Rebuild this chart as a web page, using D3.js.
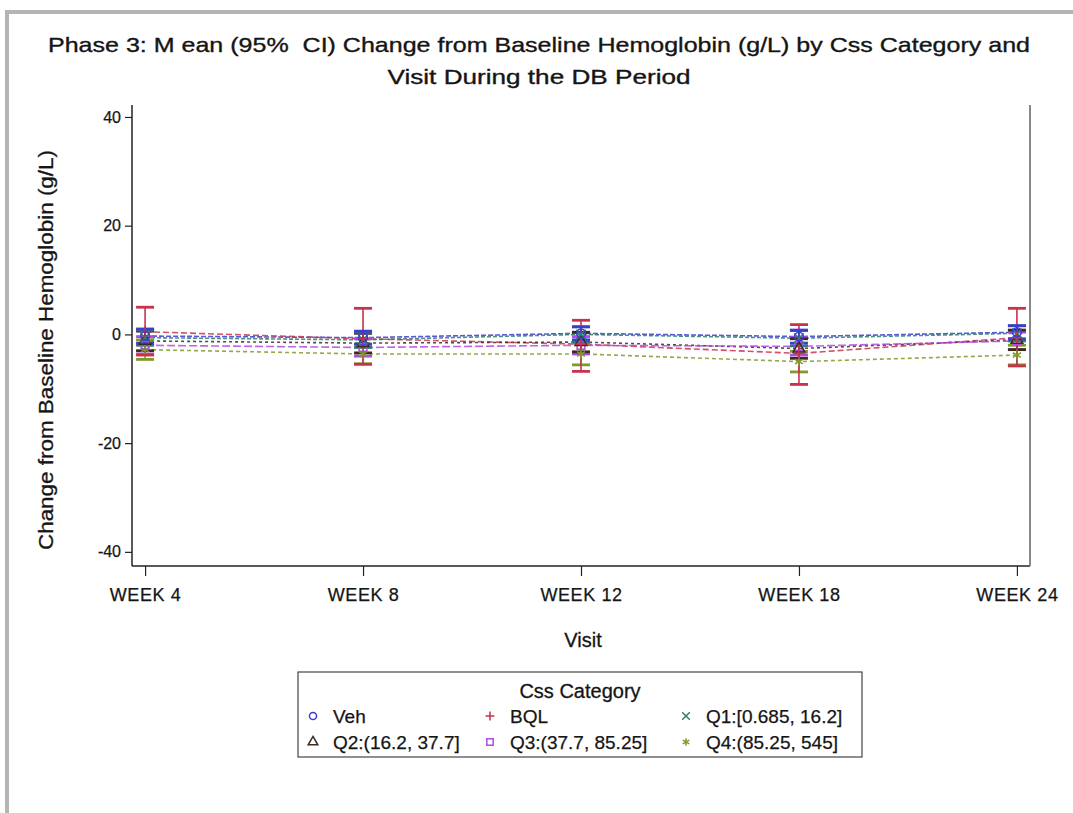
<!DOCTYPE html>
<html>
<head>
<meta charset="utf-8">
<script src="https://cdn.jsdelivr.net/npm/d3@7"></script>
<style>
  html, body { margin: 0; padding: 0; background: #fff; }
  svg { display: block; font-family: "Liberation Sans", Arial, sans-serif; }
  text { white-space: pre; }
</style>
</head>
<body>
<svg id="chart" width="1073" height="813"></svg>
<script>
// Visits on the x axis
const visits = ["WEEK 4", "WEEK 8", "WEEK 12", "WEEK 18", "WEEK 24"];
const yTicks = [-40, -20, 0, 20, 40];

// Mean change from baseline and 95% CI bounds per Css category
const vehMean = [-0.3, -0.6, 0.2, -0.4, 0.4];
const vehLow  = [-1.6, -1.8, -1.0, -1.6, -0.8];
const vehHigh = [1.0, 0.6, 1.4, 0.8, 1.6];

const bqlMean = [0.5, -0.8, -1.8, -3.5, -0.6];
const bqlLow  = [-3.8, -5.5, -6.8, -9.2, -5.8];
const bqlHigh = [5.0, 4.8, 2.6, 1.8, 4.8];

const q1Mean = [-0.6, -1.0, 0.0, -0.7, 0.2];
const q1Low  = [-2.0, -2.4, -1.4, -2.1, -1.2];
const q1High = [0.8, 0.4, 1.4, 0.7, 1.6];

const q2Mean = [-1.2, -1.6, -1.4, -2.6, -1.0];
const q2Low  = [-3.0, -3.4, -3.2, -4.4, -2.8];
const q2High = [0.6, 0.2, 0.4, -0.8, 0.8];

const q3Mean = [-2.0, -2.4, -2.0, -2.2, -1.2];
const q3Low  = [-3.6, -4.0, -3.6, -3.8, -2.8];
const q3High = [-0.4, -0.8, -0.4, -0.6, 0.4];

const q4Mean = [-2.8, -3.6, -3.6, -5.0, -3.8];
const q4Low  = [-4.6, -5.4, -5.6, -6.9, -5.6];
const q4High = [-1.0, -1.8, -1.6, -3.1, -2.0];

const categories = ["Veh", "BQL", "Q1:[0.685, 16.2]", "Q2:(16.2, 37.7]", "Q3:(37.7, 85.25]", "Q4:(85.25, 545]"];

const series = [
  { name: categories[0], mean: vehMean, low: vehLow, high: vehHigh, color: "#3c3cd2", dash: "5,2", symbol: "circle" },
  { name: categories[1], mean: bqlMean, low: bqlLow, high: bqlHigh, color: "#c8324e", dash: "6,3", symbol: "plus" },
  { name: categories[2], mean: q1Mean,  low: q1Low,  high: q1High,  color: "#2e7d6e", dash: "4,2", symbol: "x" },
  { name: categories[3], mean: q2Mean,  low: q2Low,  high: q2High,  color: "#3a2c1c", dash: "3,3", symbol: "triangle" },
  { name: categories[4], mean: q3Mean,  low: q3Low,  high: q3High,  color: "#b04ae6", dash: "8,3", symbol: "square" },
  { name: categories[5], mean: q4Mean,  low: q4Low,  high: q4High,  color: "#7f9a2a", dash: "4,3", symbol: "star" }
];

const svg = d3.select("#chart");
const ink = "#151515";

// Outer frame edges
svg.append("rect").attr("x", 5).attr("y", 10).attr("width", 1068).attr("height", 4).attr("fill", "#b4b4b4");
svg.append("rect").attr("x", 5).attr("y", 10).attr("width", 4).attr("height", 803).attr("fill", "#b4b4b4");

// Plot area
const plotLeft = 132, plotRight = 1030, plotTop = 105, plotBottom = 566;

const x = d3.scalePoint().domain(visits).range([plotLeft, plotRight]).padding(0.06);
const y = d3.scaleLinear().domain([-42.6, 42.2]).range([plotBottom, plotTop]);

// Slightly heavier text, as rendered by the original graph engine
function heavy(sel, w) {
  return sel.attr("fill", ink).attr("stroke", ink).attr("stroke-width", w).attr("paint-order", "stroke");
}

// Title
heavy(svg.append("text").attr("x", 539).attr("y", 52).attr("text-anchor", "middle")
  .attr("font-size", 21).attr("textLength", 982).attr("lengthAdjust", "spacingAndGlyphs"), 0.35)
  .text("Phase 3: M ean (95%  CI) Change from Baseline Hemoglobin (g/L) by Css Category and");
heavy(svg.append("text").attr("x", 539).attr("y", 84).attr("text-anchor", "middle")
  .attr("font-size", 21).attr("textLength", 303).attr("lengthAdjust", "spacingAndGlyphs"), 0.35)
  .text("Visit During the DB Period");

// Axes
const yAxis = d3.axisLeft(y).tickValues(yTicks).tickSize(7).tickPadding(4).tickFormat(d => String(d));
const gy = svg.append("g").attr("transform", `translate(${plotLeft},0)`).call(yAxis);
gy.select(".domain").attr("stroke", "#222").attr("stroke-width", 1.5).attr("d", `M0,${plotTop}V${plotBottom}`);
gy.selectAll(".tick line").attr("stroke", "#222").attr("stroke-width", 1.2);
heavy(gy.selectAll(".tick text").attr("font-size", 16)
  .attr("font-family", "Liberation Sans, Arial, sans-serif"), 0.25);

const xAxis = d3.axisBottom(x).tickSize(10).tickPadding(12);
const gx = svg.append("g").attr("transform", `translate(0,${plotBottom})`).call(xAxis);
gx.select(".domain").attr("stroke", "#222").attr("stroke-width", 1.5).attr("d", `M${plotLeft},0H${plotRight}`);
gx.selectAll(".tick line").attr("stroke", "#222").attr("stroke-width", 1.2);
heavy(gx.selectAll(".tick text").attr("font-size", 18).attr("letter-spacing", 0.6)
  .attr("font-family", "Liberation Sans, Arial, sans-serif"), 0.25);

// Right frame line
svg.append("line").attr("x1", plotRight).attr("x2", plotRight).attr("y1", plotTop).attr("y2", plotBottom)
  .attr("stroke", "#888").attr("stroke-width", 2);

// Axis titles
heavy(svg.append("text").attr("transform", "translate(53,350) rotate(-90)").attr("text-anchor", "middle")
  .attr("font-size", 20).attr("textLength", 400).attr("lengthAdjust", "spacingAndGlyphs"), 0.3)
  .text("Change from Baseline Hemoglobin (g/L)");
heavy(svg.append("text").attr("x", 583).attr("y", 647).attr("text-anchor", "middle")
  .attr("font-size", 20), 0.3).text("Visit");

// Marker symbols (thin plus drawn as two strokes)
const symbolMap = {
  circle: d3.symbolCircle, x: d3.symbolX,
  triangle: d3.symbolTriangle, square: d3.symbolSquare, star: d3.symbolAsterisk
};
function marker(g, s, cx, cy, size) {
  const r = Math.sqrt(size) * 0.7;
  const d = s.symbol === "plus"
    ? `M${-r},0H${r}M0,${-r}V${r}`
    : d3.symbol(symbolMap[s.symbol], size)();
  g.append("path")
    .attr("d", d)
    .attr("transform", `translate(${cx},${cy})`)
    .attr("fill", "none")
    .attr("stroke", s.color).attr("stroke-width", 1.5);
}

const plot = svg.append("g");
const line = d3.line().x((d, i) => x(visits[i])).y(d => y(d));

// Mean lines
series.forEach(s => {
  plot.append("path").datum(s.mean).attr("d", line)
    .attr("fill", "none").attr("stroke", s.color).attr("stroke-width", 1.6)
    .attr("stroke-dasharray", s.dash).attr("opacity", 0.85);
});

// Error bars with caps (Veh drawn last so it sits on top)
const cap = 9;
series.slice().reverse().forEach(s => {
  visits.forEach((v, i) => {
    const cx = x(v);
    const g = plot.append("g").attr("stroke", s.color).attr("stroke-width", 1.6);
    g.append("line").attr("x1", cx).attr("x2", cx).attr("y1", y(s.low[i])).attr("y2", y(s.high[i]));
    g.append("line").attr("x1", cx - cap).attr("x2", cx + cap).attr("y1", y(s.low[i])).attr("y2", y(s.low[i])).attr("stroke-width", 2.8);
    g.append("line").attr("x1", cx - cap).attr("x2", cx + cap).attr("y1", y(s.high[i])).attr("y2", y(s.high[i])).attr("stroke-width", 2.8);
  });
});

// Markers at means
series.slice().reverse().forEach(s => {
  s.mean.forEach((m, i) => marker(plot, s, x(visits[i]), y(m), 60));
});

// Legend
const lg = svg.append("g");
lg.append("rect").attr("x", 298).attr("y", 672).attr("width", 564).attr("height", 85)
  .attr("fill", "#fff").attr("stroke", "#444").attr("stroke-width", 1.2);
heavy(lg.append("text").attr("x", 580).attr("y", 698).attr("text-anchor", "middle")
  .attr("font-size", 20), 0.3).text("Css Category");
const colX = [313, 490, 686];
const rowY = [716, 742];
series.forEach((s, i) => {
  const cx = colX[i % 3], cy = rowY[Math.floor(i / 3)];
  marker(lg, s, cx, cy, 40);
  heavy(lg.append("text").attr("x", cx + 20).attr("y", cy + 7).attr("font-size", 19), 0.25).text(s.name);
});
</script>
</body>
</html>
